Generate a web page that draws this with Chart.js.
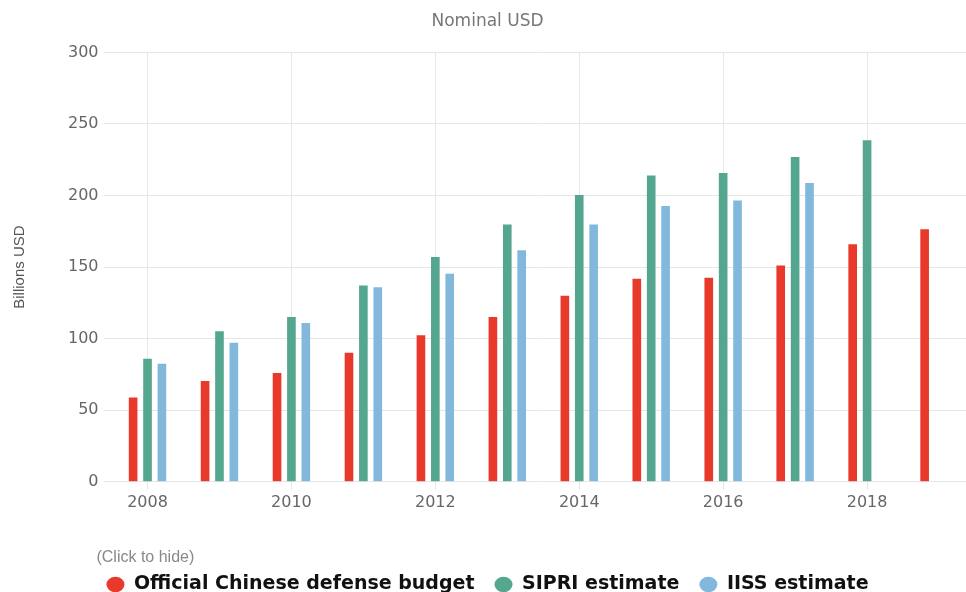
<!DOCTYPE html>
<html>
<head>
<meta charset="utf-8">
<script src="https://cdn.jsdelivr.net/npm/chart.js@4"></script>
<style>
  html, body { margin: 0; padding: 0; background: #fff; overflow: hidden; }
  #wrap { width: 976px; height: 604px; position: relative; }
</style>
</head>
<body>
<div id="wrap"><canvas id="myChart"></canvas></div>
<script>
// years on the x axis
const years = ['2008', '2009', '2010', '2011', '2012', '2013', '2014', '2015', '2016', '2017', '2018', '2019'];
// billions USD
const officialBudget = [58.9, 70.4, 76, 90.2, 102.3, 115.2, 130, 141.8, 142.5, 151.1, 165.9, 176.5];
const sipriEstimate = [86, 105.1, 115.2, 137.2, 157, 179.8, 200.4, 214, 215.7, 227, 238.6, null];
const iissEstimate = [82.5, 97.2, 111, 136, 145.3, 161.7, 179.8, 192.7, 196.5, 208.7, null, null];
const yTicks = [0, 50, 100, 150, 200, 250, 300];

const gridColor = '#e6e6e6';
const tickFont = { family: 'DejaVu Sans', size: 16 };

function createChart(chartId){
    var ctx = document.getElementById(chartId).getContext('2d');
    var myChart = new Chart(ctx, {
        type: 'bar',
        data: {
            labels: years,
            datasets: [{
                label: 'Official Chinese defense budget',
                data: officialBudget,
                backgroundColor: '#e8392b'
            }, {
                label: 'SIPRI estimate',
                data: sipriEstimate,
                backgroundColor: '#55a68f'
            }, {
                label: 'IISS estimate',
                data: iissEstimate,
                backgroundColor: '#82b8dc'
            }]
        },
        options: {
            responsive: true,
            maintainAspectRatio: false,
            animation: false,
            datasets: {
                bar: { categoryPercentage: 0.6, barPercentage: 0.6 }
            },
            layout: { padding: { left: 0, right: 1, top: 0, bottom: 0 } },
            plugins: {
                title: {
                    display: true,
                    text: 'Nominal USD',
                    color: '#777',
                    font: { family: 'DejaVu Sans', size: 17, weight: 'normal' },
                    padding: { top: 11, bottom: 21 }
                },
                legend: {
                    position: 'bottom',
                    align: 'center',
                    title: {
                        display: true,
                        position: 'start',
                        text: '(Click to hide)',
                        color: '#888',
                        font: { family: 'Liberation Sans', size: 16, lineHeight: '5px' },
                        padding: { top: 35, bottom: 0 }
                    },
                    labels: {
                        usePointStyle: true,
                        pointStyle: 'circle',
                        boxHeight: 11,
                        pointStyleWidth: 18,
                        padding: 20,
                        color: '#111',
                        font: { family: 'DejaVu Sans', size: 19, weight: 'bold' }
                    }
                },
                tooltip: { enabled: true }
            },
            scales: {
                x: {
                    border: { display: false },
                    grid: { color: gridColor, offset: false, tickLength: 8 },
                    ticks: {
                        color: '#666',
                        font: tickFont,
                        autoSkip: false,
                        maxRotation: 0,
                        padding: 3,
                        callback: function(val, i){
                            return i % 2 === 0 ? years[i] : null;
                        }
                    }
                },
                y: {
                    min: 0,
                    max: 300,
                    border: { display: false },
                    grid: { color: gridColor, tickLength: 8 },
                    afterBuildTicks: function(axis){
                        axis.ticks = yTicks.map(v => ({ value: v }));
                    },
                    ticks: { color: '#666', font: tickFont, padding: 5 },
                    title: {
                        display: true,
                        text: 'Billions USD',
                        color: '#555',
                        font: { family: 'Liberation Sans', size: 15 },
                        padding: { top: 11, bottom: 34 }
                    }
                }
            }
        }
    });
}

createChart('myChart');
</script>
</body>
</html>
